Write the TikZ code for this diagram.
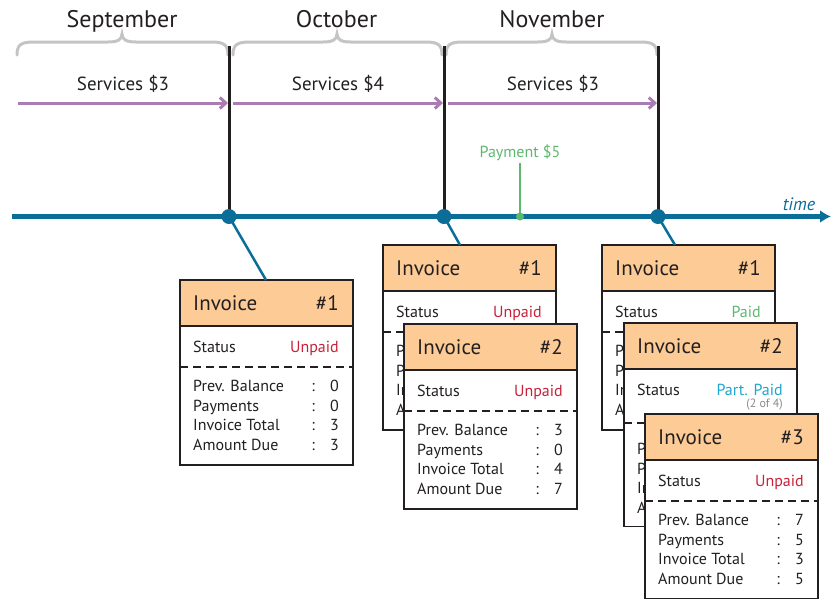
\documentclass[tikz,border=0pt]{standalone}
\usepackage{fontspec}
\setmainfont{PT Sans}
\usetikzlibrary{arrows.meta,calc}
\definecolor{tlblue}{HTML}{0B6E99}
\definecolor{svpurple}{HTML}{A97CB2}
\definecolor{bracegray}{HTML}{C4C4C4}
\definecolor{hdrorange}{HTML}{FCCB96}
\definecolor{unpaidred}{HTML}{C8213A}
\definecolor{paidgreen}{HTML}{5DB86F}
\definecolor{partcyan}{HTML}{1FA6CF}
\definecolor{ink}{HTML}{231F20}
\definecolor{notegray}{HTML}{8A8A8A}
\def\boxextra{0}\def\dashextra{0}\def\rowextra{0}
\tikzset{
  fs/.style={font=\fontsize{#1}{#1}\selectfont},
  invbox/.style={draw=ink, line width=1.4pt, fill=white, minimum width=173pt, minimum height={(185+\boxextra)*1pt}, inner sep=0pt, outer sep=0pt, anchor=north west},
  invhdr/.style={draw=ink, line width=1.4pt, fill=hdrorange, minimum width=173pt, minimum height=46pt, inner sep=0pt, outer sep=0pt, anchor=north west},
  hdrtext/.style={fs=21, text=ink, inner sep=0pt},
  rowtext/.style={fs=16, text=ink, inner sep=0pt},
  dashline/.style={draw=ink, line width=1.2pt, dash pattern=on 8pt off 5pt},
  bracestyle/.style={draw=bracegray, line width=3pt, line cap=round},
  monthline/.style={draw=ink, line width=3pt},
  svarrow/.style={draw=svpurple, line width=3pt, -{Straight Barb[length=6pt,width=11pt]}},
  timeline/.style={draw=tlblue, line width=4.5pt, -{Latex[length=11pt,width=13pt]}},
  tdot/.style={circle, fill=tlblue, minimum size=15pt, inner sep=0pt, outer sep=0pt},
  pdot/.style={circle, fill=paidgreen, minimum size=8pt, inner sep=0pt, outer sep=0pt},
  conn/.style={draw=tlblue, line width=2.5pt},
  monthtext/.style={fs=24, text=ink, inner sep=0pt, anchor=base},
  svtext/.style={fs=19, text=ink, inner sep=0pt, anchor=base},
}
% a row: label always; colon and value only when a value is given (hidden rows get none)
\newcommand\invrow[4]{%
  \node[rowtext, anchor=base west] (#1-l) at (13,#2) {#3};
  \if\relax\detokenize{#4}\relax\else
  \node[rowtext, anchor=base] (#1-c) at (133,#2) {:};
  \node[rowtext, anchor=base east] (#1-v) at (159,#2) {#4};\fi}
\newcommand\invoice[9]{%
  \begin{scope}[shift={(#2,#3)}]
    \node[invbox] (#1) at (0,0) {};
    \node[invhdr] (#1-hd) at (0,0) {};
    \node[hdrtext, anchor=base west] (#1-ti) at (13,30) {Invoice};
    \node[hdrtext, anchor=base east] (#1-no) at (159,30) {\##4};
    \node[rowtext, anchor=base west] (#1-sl) at (13,72.5) {Status};
    \node[rowtext, anchor=base east] (#1-sv) at (159,72.5) {#5};
    \draw[dashline] (0,87+\dashextra) -- (173,87+\dashextra);
    \invrow{#1-r1}{111.5+\rowextra}{Prev. Balance}{#6}
    \invrow{#1-r2}{131.2+\rowextra}{Payments}{#7}
    \invrow{#1-r3}{150.9+\rowextra}{Invoice Total}{#8}
    \invrow{#1-r4}{170.6+\rowextra}{Amount Due}{#9}
  \end{scope}}
\begin{document}
\begin{tikzpicture}[x=1pt,y=-1pt]
\useasboundingbox (0,0) rectangle (831,598);
% month labels and braces
\node[monthtext] (mSep) at (122,27) {September};
\node[monthtext] (mOct) at (336.5,27) {October};
\node[monthtext] (mNov) at (552,27) {November};
\foreach \a/\m/\b in {17/122/228, 233/337/442, 446/552/657}{
  \draw[bracestyle] (\a,55) .. controls (\a,45) and (\a+4,42) .. (\a+16,42) -- (\m-14,42)
     .. controls (\m-5,42) and (\m,40) .. (\m,34) .. controls (\m,40) and (\m+5,42) .. (\m+14,42)
     -- (\b-16,42) .. controls (\b-4,42) and (\b,45) .. (\b,55);
}
% services
\node[svtext] (sv1) at (123,90.7) {Services \$3};
\node[svtext] (sv2) at (338,90.7) {Services \$4};
\node[svtext] (sv3) at (553,90.7) {Services \$3};
\coordinate (s1a) at (18,103);  \coordinate (s1b) at (228,103);
\coordinate (s2a) at (233,103); \coordinate (s2b) at (443,103);
\coordinate (s3a) at (448,103); \coordinate (s3b) at (657,103);
\draw[svarrow] (s1a) -- (s1b);
\draw[svarrow] (s2a) -- (s2b);
\draw[svarrow] (s3a) -- (s3b);
% month boundaries
\coordinate (v1) at (229,46);
\coordinate (v2) at (444,46);
\coordinate (v3) at (658,46);
\coordinate (tl0) at (12,216.5);
\coordinate (tl1) at (831,216.5);
\draw[monthline] (v1) -- (229,216.5);
\draw[monthline] (v2) -- (444,216.5);
\draw[monthline] (v3) -- (658,216.5);
% timeline
\draw[timeline] (tl0) -- (tl1);
\node[text=tlblue, inner sep=0pt, anchor=base, font=\fontsize{18}{18}\selectfont\itshape] (time) at (799,210) {time};
% payment
\node[pdot] (pd) at (520,216.5) {};
\coordinate (pt) at (520,163);
\draw[draw=paidgreen, line width=2.5pt] (pd.center) -- (pt);
\node[fs=16, text=paidgreen, inner sep=0pt, anchor=base] (pl) at (520,157) {Payment \$5};
% dots
\node[tdot] (d1) at (229,216.5) {};
\node[tdot] (d2) at (444,216.5) {};
\node[tdot] (d3) at (658,216.5) {};
% invoices
\invoice{s1}{180}{280}{1}{\textcolor{unpaidred}{Unpaid}}{0}{0}{3}{3}
\invoice{o1}{383}{245}{1}{\textcolor{unpaidred}{Unpaid}}{}{}{}{}
\invoice{o2}{404}{324}{2}{\textcolor{unpaidred}{Unpaid}}{3}{0}{4}{7}
\invoice{n1}{602}{245}{1}{\textcolor{paidgreen}{Paid}}{}{}{}{}
\def\boxextra{18.5}\def\dashextra{13}\def\rowextra{20}
\invoice{n2}{624}{323}{2}{\textcolor{partcyan}{Part. Paid}}{}{}{}{}
\def\boxextra{0}\def\dashextra{0}\def\rowextra{0}
\node[fs=12, text=notegray, inner sep=0pt, anchor=base east] (n2-note) at (783,407.5) {(2 of 4)};
\invoice{n3}{645}{414}{3}{\textcolor{unpaidred}{Unpaid}}{7}{5}{3}{5}
% connectors
\draw[conn] (d1.center) -- ($(s1.north west)+(86,0)$);
\draw[conn] (d2.center) -- ($(o1.north west)+(77,0)$);
\draw[conn] (d3.center) -- ($(n1.north west)+(73,0)$);
\end{tikzpicture}
\end{document}
